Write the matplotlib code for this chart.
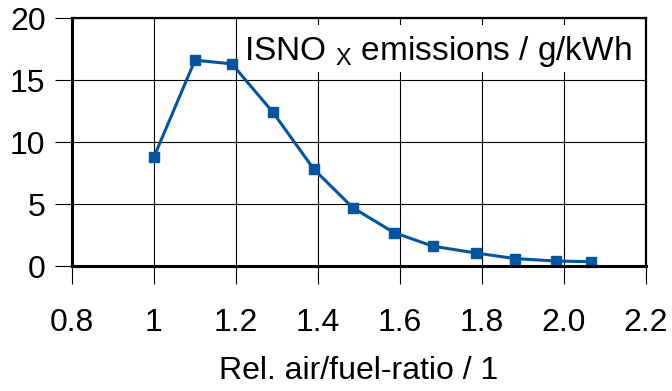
import matplotlib
matplotlib.use("Agg")
import matplotlib.pyplot as plt
from matplotlib.patches import Rectangle

# Data
air_fuel_ratio = [1.0, 1.1, 1.19, 1.29, 1.39, 1.485, 1.585, 1.68, 1.785, 1.88, 1.98, 2.065]
isnox = [8.8, 16.6, 16.3, 12.4, 7.8, 4.7, 2.7, 1.6, 1.05, 0.6, 0.4, 0.35]
x_ticks = [0.8, 1.0, 1.2, 1.4, 1.6, 1.8, 2.0, 2.2]
x_tick_labels = ["0.8", "1", "1.2", "1.4", "1.6", "1.8", "2.0", "2.2"]
y_ticks = [0, 5, 10, 15, 20]
y_tick_labels = ["0", "5", "10", "15", "20"]

plt.rcParams['font.family'] = ['Liberation Sans', 'DejaVu Sans']
plt.rcParams['mathtext.fontset'] = 'custom'
plt.rcParams['mathtext.rm'] = 'Liberation Sans'
plt.rcParams['mathtext.it'] = 'Liberation Sans'

fig = plt.figure(figsize=(6.72, 3.91), dpi=100)
ax = fig.add_axes([72/672, 1-266/391, (646-72)/672, (266-18)/391])

ax.plot(air_fuel_ratio, isnox, color='#0055a5', linewidth=2.2, marker='s',
        markersize=7.5, zorder=5, clip_on=False)

ax.set_xlim(0.8, 2.2)
ax.set_ylim(0, 20)
ax.set_xticks(x_ticks)
ax.set_xticklabels(x_tick_labels)
ax.set_yticks(y_ticks)
ax.set_yticklabels(y_tick_labels)

ax.grid(True, color='black', linewidth=0.8, zorder=1)
ax.set_axisbelow(True)
ax.tick_params(axis='x', direction='out', length=13, width=0.8, pad=17, labelsize=23)
ax.tick_params(axis='y', direction='out', length=12, width=0.8, pad=7, labelsize=23)

for s in ['left', 'bottom']:
    ax.spines[s].set_linewidth(2.2)
for s in ['top', 'right']:
    ax.spines[s].set_linewidth(1.6)
for s in ax.spines.values():
    s.set_zorder(6)

ax.add_patch(Rectangle((0.296, 0.782), 0.704, 0.19, transform=ax.transAxes,
                       facecolor='white', edgecolor='none', zorder=3))
ax.text(0.638, 0.865, r"ISNO$\ {}_{\mathrm{X}}$ emissions / g/kWh", transform=ax.transAxes,
        ha='center', va='center', fontsize=24, zorder=4)

ax.set_xlabel("Rel. air/fuel-ratio / 1", fontsize=23, labelpad=13)

fig.savefig("out.png", dpi=100)
